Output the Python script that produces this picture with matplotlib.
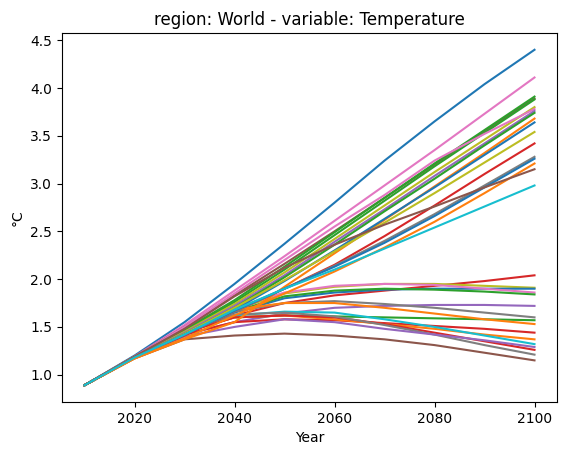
import matplotlib
matplotlib.use("Agg")
import matplotlib.pyplot as plt

years = [2010, 2020, 2030, 2040, 2050, 2060, 2070, 2080, 2090, 2100]

# high-warming scenarios
upper_paths = [
    [0.89, 1.20, 1.55, 1.95, 2.37, 2.80, 3.24, 3.65, 4.04, 4.40],
    [0.89, 1.19, 1.52, 1.88, 2.24, 2.61, 2.98, 3.35, 3.73, 4.11],
    [0.89, 1.19, 1.50, 1.83, 2.16, 2.50, 2.85, 3.20, 3.55, 3.89],
    [0.89, 1.19, 1.47, 1.78, 2.13, 2.49, 2.85, 3.21, 3.56, 3.91],
    [0.89, 1.18, 1.46, 1.76, 2.10, 2.46, 2.82, 3.18, 3.53, 3.88],
    [0.89, 1.18, 1.45, 1.74, 2.07, 2.42, 2.77, 3.12, 3.46, 3.80],
    [0.89, 1.19, 1.50, 1.85, 2.20, 2.55, 2.88, 3.24, 3.52, 3.78],
    [0.89, 1.18, 1.44, 1.72, 2.04, 2.39, 2.73, 3.08, 3.42, 3.76],
    [0.89, 1.18, 1.43, 1.70, 2.02, 2.36, 2.71, 3.05, 3.40, 3.74],
    [0.89, 1.17, 1.37, 1.55, 1.92, 2.27, 2.62, 2.97, 3.32, 3.68],
    [0.89, 1.18, 1.42, 1.68, 1.98, 2.30, 2.63, 2.96, 3.30, 3.64],
    [0.89, 1.18, 1.43, 1.70, 1.99, 2.29, 2.59, 2.90, 3.22, 3.54],
    [0.89, 1.18, 1.41, 1.66, 1.90, 2.15, 2.45, 2.77, 3.10, 3.42],
    [0.89, 1.18, 1.42, 1.66, 1.90, 2.14, 2.40, 2.68, 2.98, 3.28],
    [0.89, 1.18, 1.42, 1.67, 1.90, 2.13, 2.38, 2.66, 2.96, 3.26],
    [0.89, 1.17, 1.38, 1.62, 1.85, 2.08, 2.33, 2.60, 2.90, 3.21],
    [0.89, 1.19, 1.48, 1.82, 2.12, 2.36, 2.57, 2.76, 2.96, 3.15],
    [0.89, 1.18, 1.42, 1.68, 1.90, 2.10, 2.32, 2.54, 2.76, 2.98],
]
upper_colors = ["tab:blue", "tab:pink", "tab:brown", "tab:green", "tab:green",
                "tab:olive", "tab:pink", "tab:purple", "tab:green", "tab:orange",
                "tab:blue", "tab:olive", "tab:red", "tab:gray", "tab:blue",
                "tab:orange", "tab:brown", "tab:cyan"]

# low-warming scenarios
lower_paths = [
    [0.89, 1.18, 1.45, 1.62, 1.75, 1.83, 1.88, 1.93, 1.98, 2.04],
    [0.89, 1.19, 1.49, 1.68, 1.85, 1.92, 1.95, 1.95, 1.93, 1.91],
    [0.89, 1.18, 1.47, 1.65, 1.80, 1.86, 1.89, 1.90, 1.90, 1.90],
    [0.89, 1.19, 1.50, 1.70, 1.86, 1.93, 1.95, 1.94, 1.90, 1.86],
    [0.89, 1.18, 1.47, 1.66, 1.82, 1.88, 1.90, 1.89, 1.87, 1.84],
    [0.89, 1.18, 1.42, 1.55, 1.64, 1.70, 1.72, 1.73, 1.73, 1.72],
    [0.89, 1.18, 1.46, 1.66, 1.75, 1.77, 1.74, 1.70, 1.65, 1.60],
    [0.89, 1.18, 1.45, 1.60, 1.62, 1.61, 1.60, 1.59, 1.58, 1.57],
    [0.89, 1.18, 1.47, 1.68, 1.75, 1.75, 1.70, 1.64, 1.58, 1.53],
    [0.89, 1.18, 1.42, 1.55, 1.58, 1.57, 1.54, 1.51, 1.48, 1.44],
    [0.89, 1.18, 1.44, 1.60, 1.62, 1.58, 1.53, 1.48, 1.42, 1.37],
    [0.89, 1.18, 1.46, 1.62, 1.66, 1.65, 1.58, 1.50, 1.41, 1.32],
    [0.89, 1.18, 1.44, 1.60, 1.62, 1.60, 1.53, 1.44, 1.35, 1.26],
    [0.89, 1.18, 1.45, 1.63, 1.65, 1.61, 1.52, 1.42, 1.31, 1.21],
    [0.89, 1.18, 1.40, 1.50, 1.58, 1.55, 1.48, 1.42, 1.36, 1.29],
    [0.89, 1.17, 1.37, 1.41, 1.43, 1.41, 1.37, 1.31, 1.23, 1.15],
]
lower_colors = ["tab:red", "tab:olive", "tab:blue", "tab:pink", "tab:green",
                "tab:purple", "tab:gray", "tab:green", "tab:orange", "tab:red",
                "tab:orange", "tab:cyan", "tab:red", "tab:gray", "tab:purple",
                "tab:brown"]

fig = plt.figure(figsize=(5.67, 4.55), dpi=100)
ax = fig.add_axes([62 / 567, 1 - 402 / 455, 495 / 567, 369 / 455])

for vals, c in zip(lower_paths, lower_colors):
    ax.plot(years, vals, color=c)
for vals, c in zip(upper_paths, upper_colors):
    ax.plot(years, vals, color=c)

ax.set_title("region: World - variable: Temperature")
ax.set_xlabel("Year")
ax.set_ylabel("°C")

fig.savefig("out.png", dpi=100)
